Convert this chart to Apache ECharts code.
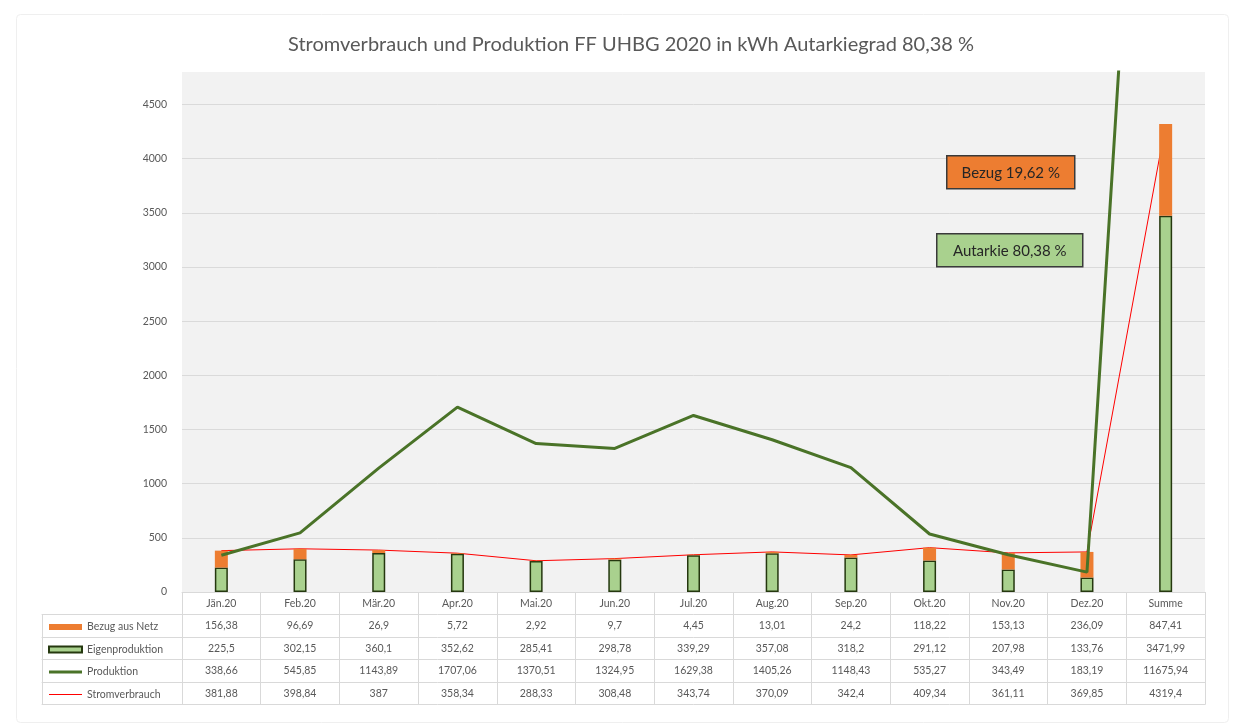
<!DOCTYPE html>
<html>
<head>
<meta charset="utf-8">
<script src="https://cdn.jsdelivr.net/npm/echarts@6/dist/echarts.min.js"></script>
<style>
  html, body { margin: 0; padding: 0; background: #fff; }
  #chart { width: 1240px; height: 728px; }
</style>
</head>
<body>
<div id="chart"></div>
<script>
var months = ['Jän.20', 'Feb.20', 'Mär.20', 'Apr.20', 'Mai.20', 'Jun.20', 'Jul.20', 'Aug.20', 'Sep.20', 'Okt.20', 'Nov.20', 'Dez.20', 'Summe'];
var bezug = [156.38, 96.69, 26.9, 5.72, 2.92, 9.7, 4.45, 13.01, 24.2, 118.22, 153.13, 236.09, 847.41];
var eigen = [225.5, 302.15, 360.1, 352.62, 285.41, 298.78, 339.29, 357.08, 318.2, 291.12, 207.98, 133.76, 3471.99];
var produktion = [338.66, 545.85, 1143.89, 1707.06, 1370.51, 1324.95, 1629.38, 1405.26, 1148.43, 535.27, 343.49, 183.19, 11675.94];
var verbrauch = [381.88, 398.84, 387, 358.34, 288.33, 308.48, 343.74, 370.09, 342.4, 409.34, 361.11, 369.85, 4319.4];
var yTicks = { min: 0, max: 4800, interval: 500 };

var titleText = 'Stromverbrauch und Produktion FF UHBG 2020 in kWh Autarkiegrad 80,38 %';
var rowValues = [bezug, eigen, produktion, verbrauch];

var FONT = 'Lato, "Open Sans", sans-serif';
var TXT = '#595959';
var LINE = '#d9d9d9';
var ROW = 22.5;

function fmt(v) { return String(v).replace('.', ','); }

var chart = echarts.init(document.getElementById('chart'));

function tableAxis(grid, data, off, opts) {
  return {
    type: 'category', gridIndex: grid, data: data, position: 'bottom', offset: off,
    axisLine: { onZero: false, lineStyle: { color: LINE } },
    axisTick: { show: opts.tick, length: ROW, interval: 0, lineStyle: { color: LINE } },
    axisLabel: { show: opts.label, interval: 0, margin: 6, fontSize: 10.5, color: TXT, fontFamily: FONT }
  };
}

// table: month header + one axis per data row, stacked downwards by offset
var xAxes = [tableAxis(0, months, 0, { tick: true, label: true })];
rowValues.forEach(function (arr, i) {
  xAxes.push(tableAxis(0, arr.map(fmt), ROW * (i + 1), { tick: true, label: true }));
});
xAxes.push(tableAxis(0, months, ROW * 5, { tick: false, label: false }));
// left column of the table (legend keys)
for (var k = 1; k <= 5; k++) {
  xAxes.push(tableAxis(1, [''], ROW * k, { tick: k < 5, label: false }));
}

var barIcon = 'path://M0,0h33v6h-33z';

chart.setOption({
  animation: false,
  backgroundColor: '#fff',
  title: {
    text: titleText, left: 283, top: 30,
    textStyle: { fontFamily: FONT, fontSize: 20, fontWeight: 'normal', color: TXT }
  },
  legend: {
    orient: 'vertical', left: 43, top: 615, itemWidth: 33, itemHeight: 14, itemGap: ROW - 14,
    selectedMode: false,
    textStyle: { fontFamily: FONT, fontSize: 10.5, color: TXT, lineHeight: 14 },
    data: [
      { name: 'Bezug aus Netz', icon: barIcon },
      { name: 'Eigenproduktion', icon: barIcon },
      { name: 'Produktion', icon: 'path://M0,0h33v3h-33z' },
      { name: 'Stromverbrauch', icon: 'path://M0,0h33v1.2h-33z' }
    ]
  },
  grid: [
    { left: 182, right: 35, top: 72, height: 520, show: true, backgroundColor: '#f2f2f2', borderWidth: 0 },
    { left: 42, width: 140, top: 72, height: 520, show: false }
  ],
  xAxis: xAxes,
  yAxis: [{
    type: 'value', gridIndex: 0, min: yTicks.min, max: yTicks.max, interval: yTicks.interval,
    axisLine: { show: false }, axisTick: { show: false },
    axisLabel: { margin: 15, fontSize: 10.5, color: TXT, fontFamily: FONT, showMaxLabel: false,
      formatter: function (v) { return String(v); } },
    splitLine: { showMaxLine: false, lineStyle: { color: '#dadada' } }
  }, {
    type: 'value', gridIndex: 1, show: false
  }],
  series: [{
    name: 'Stromverbrauch', type: 'line', data: verbrauch, symbol: 'none', z: 1,
    lineStyle: { color: '#ff0000', width: 1 }, itemStyle: { color: '#ff0000' }
  }, {
    name: 'Eigenproduktion', type: 'bar', stack: 'v', data: eigen, barWidth: 13, z: 2,
    itemStyle: { color: '#a9d18e', borderColor: '#25380f', borderWidth: 1.5 }
  }, {
    name: 'Bezug aus Netz', type: 'bar', stack: 'v', data: bezug, barWidth: 13, z: 2,
    itemStyle: { color: '#ed7d31' }
  }, {
    name: 'Produktion', type: 'line', data: produktion, symbol: 'none', z: 3,
    lineStyle: { color: '#4a7328', width: 3 }, itemStyle: { color: '#4a7328' }
  }],
  graphic: [
    { type: 'rect', left: 14, top: 12, shape: { width: 1212, height: 708, r: 4 },
      style: { fill: 'none', stroke: '#efefef', lineWidth: 1 }, silent: true, z: -10 },
    { type: 'group', left: 946, top: 155, z: 100, children: [
      { type: 'rect', z: 100, shape: { width: 128, height: 33 }, style: { fill: '#ed7d31', stroke: '#3a3a3a', lineWidth: 1.5 } },
      { type: 'text', z: 101, x: 64, y: 17, style: { text: 'Bezug 19,62 %', align: 'center', verticalAlign: 'middle',
        font: '15px ' + FONT, fill: '#262626' } }
    ] },
    { type: 'group', left: 936, top: 233, z: 100, children: [
      { type: 'rect', z: 100, shape: { width: 146, height: 33 }, style: { fill: '#a9d18e', stroke: '#3a3a3a', lineWidth: 1.5 } },
      { type: 'text', z: 101, x: 73, y: 17, style: { text: 'Autarkie 80,38 %', align: 'center', verticalAlign: 'middle',
        font: '15px ' + FONT, fill: '#262626' } }
    ] }
  ]
});
</script>
</body>
</html>
